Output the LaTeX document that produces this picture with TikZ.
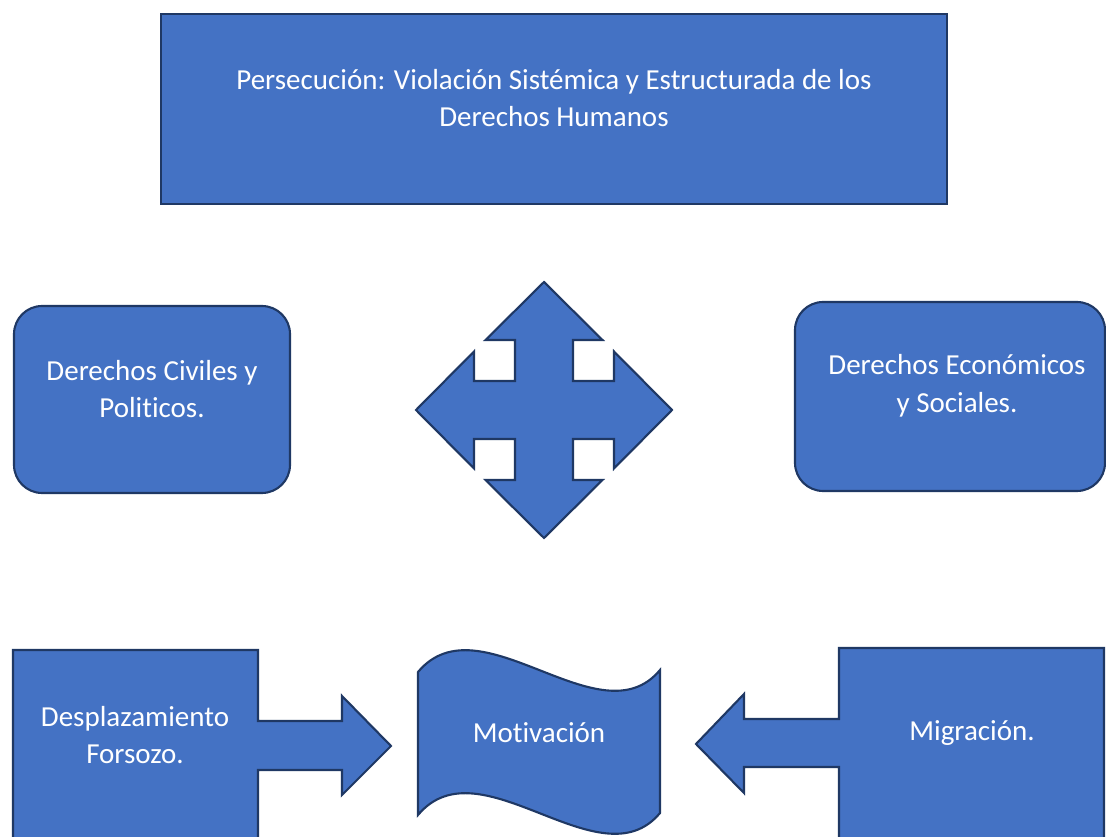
\documentclass[tikz,border=0pt]{standalone}
\usepackage{fontspec}
\setmainfont{Carlito}[Ligatures={NoCommon,NoRare,NoContextual}]
\definecolor{fillb}{HTML}{4472C4}
\definecolor{edgeb}{HTML}{1F3864}
\begin{document}
\begin{tikzpicture}[x=0.02cm,y=-0.02cm,
  blk/.style={fill=fillb,draw=edgeb,line width=1.2pt,line join=miter},
  lbl/.style={text=white,font=\fontsize{16.5}{21.5}\selectfont,align=center,inner sep=0pt}]
\clip (0,0) rectangle (1106,837);
\fill[white] (0,0) rectangle (1106,837);
% top box
\draw[blk] (161,14) rectangle (947,204);
\node[lbl] (title) at (554,98) {Persecución: Violación Sistémica y Estructurada de los\\Derechos Humanos};
% rounded boxes
\draw[blk,rounded corners=16pt] (14,306) rectangle (290,493);
\node[lbl] (civ) at (152,389) {Derechos Civiles y\\Politicos.};
\draw[blk,rounded corners=16pt] (795,302) rectangle (1105,491);
\node[lbl] (eco) at (957,386) {Derechos Económicos\\y Sociales.};
% four-way arrow
\begin{scope}[shift={(544,410)}]
\draw[blk] (0,-128) -- (58.5,-70) -- (29,-70) -- (29,-29) -- (70,-29) -- (70,-58.5) -- (128,0)
  -- (70,58.5) -- (70,29) -- (29,29) -- (29,70) -- (58.5,70) -- (0,128)
  -- (-58.5,70) -- (-29,70) -- (-29,29) -- (-70,29) -- (-70,58.5) -- (-128,0)
  -- (-70,-58.5) -- (-70,-29) -- (-29,-29) -- (-29,-70) -- (-58.5,-70) -- cycle;
\end{scope}
\coordinate (cross) at (544,410);
% left callout
\draw[blk] (13,650) -- (258,650) -- (258,721) -- (342,721) -- (342,696) -- (391,746) -- (342,795)
  -- (342,770) -- (258,770) -- (258,860) -- (13,860) -- cycle;
\node[lbl] (des) at (135,735) {Desplazamiento\\Forsozo.};
% wave
\draw[blk] (418,672) .. controls (480,598) and (600,742) .. (660,670) -- (660,813)
  .. controls (600,885) and (480,741) .. (418,815) -- cycle;
\node[lbl] (mot) at (539,733) {Motivación};
% right callout
\draw[blk] (1104,648) -- (839,648) -- (839,719) -- (744,719) -- (744,694) -- (696,744) -- (744,793)
  -- (744,767) -- (839,767) -- (839,860) -- (1104,860) -- cycle;
\node[lbl] (mig) at (972,733) {Migración.};
\end{tikzpicture}
\end{document}
